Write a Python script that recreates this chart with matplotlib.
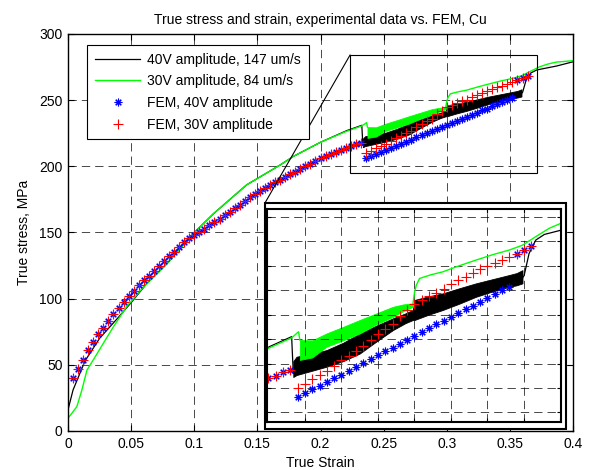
import matplotlib
matplotlib.use('Agg')
import matplotlib.pyplot as plt
from matplotlib.patches import Rectangle
from matplotlib.lines import Line2D

plt.rcParams['font.family'] = ['Liberation Sans', 'DejaVu Sans']
plt.rcParams['lines.scale_dashes'] = False

# ---------------- data ----------------
black_pre_x = [0.0, 0.004, 0.0135, 0.025, 0.040, 0.050, 0.062, 0.078, 0.086, 0.100, 0.115,
               0.1415, 0.168, 0.1785, 0.1996, 0.2208, 0.2327, 0.2336]
black_pre_y = [16, 31, 53, 70, 86, 97, 111, 126, 135, 150, 164,
               186, 201, 207.5, 218, 227, 231, 216]
black_band_x = [0.2336, 0.2354, 0.2436, 0.2518, 0.2609, 0.2700, 0.2791, 0.2882, 0.2950, 0.2991,
                0.3000, 0.3078, 0.3155, 0.3246, 0.3337, 0.3428, 0.3519, 0.3560, 0.3592]
black_band_lo = [214.5, 215.3, 217.0, 218.7, 221.0, 224.1, 229.0, 233.7, 236.5, 237.8,
                 237.8, 240.0, 241.9, 244.5, 247.3, 249.5, 251.4, 252.0, 252.8]
black_band_hi = [221.0, 222.8, 224.0, 225.5, 228.5, 232.3, 235.5, 238.5, 240.5, 241.9,
                 246.0, 247.5, 248.7, 250.8, 252.8, 254.5, 256.2, 257.0, 258.2]
black_post_x = [0.3592, 0.3601, 0.3628, 0.3665, 0.3712, 0.3801, 0.387, 0.400]
black_post_y = [255.0, 256.0, 265.0, 270.5, 272.8, 274.5, 275.8, 279.0]

green_pre_x = [0.0, 0.007, 0.011, 0.015, 0.020, 0.028, 0.036, 0.0465, 0.060, 0.078, 0.100,
               0.115, 0.1415, 0.168, 0.1785, 0.1996, 0.2199, 0.2327, 0.2365, 0.2372]
green_pre_y = [9.6, 18.4, 31, 46, 53.7, 66.3, 78.8, 94, 109, 126, 150,
               164, 186, 201, 207.5, 218, 226.2, 230.5, 233, 229.6]
green_band_x = [0.2372, 0.2440, 0.2518, 0.2609, 0.2700, 0.2791, 0.2882, 0.2940, 0.2991]
green_band_lo = [221.5, 222.5, 226.9, 229.5, 232.3, 236.0, 239.1, 241.5, 243.2]
green_band_hi = [229.6, 229.5, 232.3, 235.0, 237.8, 240.5, 243.2, 244.2, 244.6]
green_post_x = [0.2991, 0.3000, 0.3010, 0.3028, 0.3090, 0.3155, 0.3246, 0.3337, 0.3428,
                0.3519, 0.3592, 0.3665, 0.3738, 0.3801, 0.387, 0.400]
green_post_y = [244.0, 249.0, 252.0, 254.8, 256.3, 257.5, 260.0, 262.3, 264.5,
                266.4, 268.4, 271.9, 275.3, 277.3, 278.8, 279.8]

fem_x = [0.004, 0.008, 0.012, 0.016, 0.020, 0.024, 0.028, 0.032, 0.036, 0.040,
         0.044, 0.048, 0.052, 0.056, 0.060, 0.064, 0.068, 0.072, 0.076, 0.080,
         0.084, 0.088, 0.092, 0.096, 0.100, 0.104, 0.108, 0.112, 0.116, 0.120,
         0.124, 0.128, 0.132, 0.136, 0.140, 0.144, 0.148, 0.152, 0.156, 0.160,
         0.164, 0.168, 0.172, 0.176, 0.180, 0.184, 0.188, 0.192, 0.196, 0.200,
         0.204, 0.208, 0.212, 0.216, 0.220, 0.224, 0.228, 0.232, 0.236, 0.240,
         0.244, 0.248, 0.252, 0.256, 0.260, 0.264, 0.268, 0.272, 0.276, 0.280,
         0.284, 0.288, 0.292, 0.296, 0.300, 0.304, 0.308, 0.312, 0.316, 0.320,
         0.324, 0.328, 0.332, 0.336, 0.340, 0.344, 0.348, 0.352, 0.356, 0.360,
         0.364]
fem30_y = [40, 47, 54, 61, 67, 73, 78, 83.5, 88.5, 93,
           97.5, 102, 106, 110, 114, 117.5, 121, 125, 128.5, 132,
           135.5, 139, 142.5, 145.5, 148, 150.5, 153, 155.5, 158, 160.5,
           163, 165.5, 168.5, 171, 174, 176.5, 179, 181, 183.5, 186,
           188, 190, 192, 194, 196, 198, 200, 202, 204, 206,
           207.5, 209.5, 211, 212.5, 214, 215, 216.5, 217.5, 210, 211.5,
           213.5, 215.5, 217, 219, 221.5, 223, 225, 227, 229.5, 232,
           234, 236, 239.5, 242, 244.5, 246, 247.5, 249, 250.5, 252.5,
           254, 255.5, 257, 258.5, 260, 261, 262.5, 263.5, 265, 266.5,
           268]
fem40_y = [40, 47, 54, 61, 67, 73, 78, 83.5, 88.5, 93,
           97.5, 102, 106, 110, 114, 117.5, 121, 125, 128.5, 132,
           135.5, 139, 142.5, 145.5, 148, 150.5, 153, 155.5, 158, 160.5,
           163, 165.5, 168.5, 171, 174, 176.5, 179, 181, 183.5, 186,
           188, 190, 192, 194, 196, 198, 200, 202, 204, 206,
           207.5, 209.5, 211, 212.5, 214, 215, 216.5, 217.5, 206.5, 208,
           209.5, 211, 212.5, 214, 215.5, 217, 218.7, 220.2, 221.8, 223.4,
           225, 226.5, 228, 229.7, 231.3, 232.8, 234.4, 236, 237.5, 239,
           240.6, 242.2, 243.7, 245.3, 246.9, 248.5, 250, 251.5, 265, 266.5,
           268]

labels = ['40V amplitude, 147 um/s', '30V amplitude, 84 um/s',
          'FEM, 40V amplitude', 'FEM, 30V amplitude']
title = 'True stress and strain, experimental data vs. FEM, Cu'
xticks = [0, 0.05, 0.1, 0.15, 0.2, 0.25, 0.3, 0.35, 0.4]
xticklabels = ['0', '0.05', '0.1', '0.15', '0.2', '0.25', '0.3', '0.35', '0.4']
yticks = [0, 50, 100, 150, 200, 250, 300]
inset_xticks = [0.24, 0.26, 0.28, 0.30, 0.32, 0.34, 0.36, 0.38]
inset_yticks = [200, 210, 220, 230, 240, 250, 260, 270, 280]

# ---------------- drawing ----------------
W, H = 592, 470
fig = plt.figure(figsize=(W / 100, H / 100), dpi=100)
ax = fig.add_axes([68 / W, 39 / H, 505 / W, 397 / H])

GREEN = '#00ff00'
grid_ls = (0, (6.0, 3.6))


def draw_data(a):
    a.plot(black_pre_x, black_pre_y, color='k', lw=0.9)
    a.fill_between(black_band_x, black_band_lo, black_band_hi, color='k', lw=0.6)
    a.plot(black_post_x, black_post_y, color='k', lw=0.9)
    a.plot(green_pre_x, green_pre_y, color=GREEN, lw=1.0)
    a.fill_between(green_band_x, green_band_lo, green_band_hi, color=GREEN, lw=0.6)
    a.plot(green_post_x, green_post_y, color=GREEN, lw=1.0)
    a.plot(fem_x, fem40_y, ls='none', marker=(8, 2, 0), ms=5.5, mew=0.8,
           color='#0000ff')
    a.plot(fem_x, fem30_y, ls='none', marker='+', ms=6.5, mew=0.8,
           color='#ff0000')


draw_data(ax)
ax.set_xlim(0, 0.4)
ax.set_ylim(0, 300)
ax.set_xticks(xticks)
ax.set_xticklabels(xticklabels)
ax.set_yticks(yticks)
ax.tick_params(direction='in', length=4, width=0.8, top=True, right=True,
               labelsize=10, pad=4)
ax.grid(True, color='k', lw=0.5, linestyle=grid_ls)
for s in ax.spines.values():
    s.set_linewidth(1.0)
ax.set_xlabel('True Strain', fontsize=10, labelpad=4)
ax.set_ylabel('True stress, MPa', fontsize=10, labelpad=6)
ax.set_title(title, fontsize=10, pad=7)

# zoom rectangle and connector
ax.add_patch(Rectangle((0.2234, 195.2), 0.1477, 88.9, fill=False, ec='k',
                       lw=0.8, zorder=6))
ax.plot([0.2234, 0.156], [284.1, 172.3], color='k', lw=0.8, zorder=6)

# legend
handles = [Line2D([], [], color='k', lw=0.9),
           Line2D([], [], color=GREEN, lw=1.0),
           Line2D([], [], ls='none', marker=(8, 2, 0), ms=5.5, mew=0.8, color='#0000ff'),
           Line2D([], [], ls='none', marker='+', ms=6.5, mew=0.8, color='#ff0000')]
leg = ax.legend(handles, labels, loc='upper left',
                bbox_to_anchor=((87 - 68) / 505, (431 - 45) / 397),
                borderaxespad=0, fontsize=10, handlelength=3.3, handletextpad=0.5,
                labelspacing=0.55, borderpad=0.55, numpoints=1,
                fancybox=False, framealpha=1, edgecolor='k')
leg.get_frame().set_linewidth(0.8)
leg.set_zorder(7)

# inset outer frame (white backing)
ax.add_patch(Rectangle((265 / W, (H - 429) / H), 301 / W, 226 / H,
                       transform=fig.transFigure, fc='white', ec='k', lw=1.5,
                       clip_on=False, zorder=20))

# inset axes
axi = fig.add_axes([267 / W, (H - 422) / H, 294 / W, 213 / H])
axi.set_zorder(1)
axi.set_facecolor('white')
draw_data(axi)
axi.set_xlim(0.2192, 0.3803)
axi.set_ylim(196.1, 283.2)
axi.set_xticks(inset_xticks)
axi.set_yticks(inset_yticks)
axi.set_xticklabels([])
axi.set_yticklabels([])
axi.tick_params(direction='in', length=3, width=0.8, top=True, right=True)
axi.grid(True, color='k', lw=0.5, linestyle=grid_ls)
for s in axi.spines.values():
    s.set_linewidth(1.5)

fig.savefig('out.png', dpi=100)
